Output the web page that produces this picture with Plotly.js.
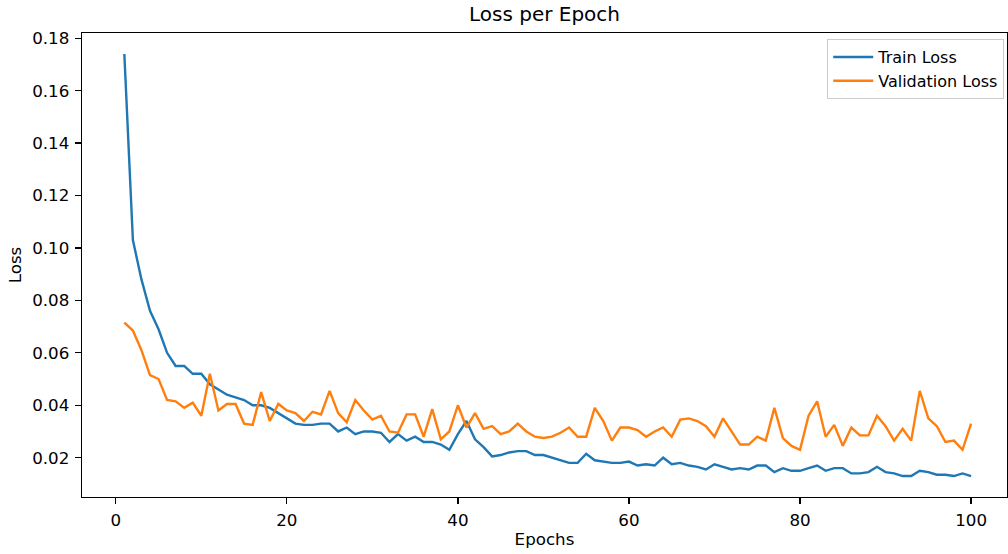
<!DOCTYPE html>
<html>
<head>
<meta charset="utf-8">
<script src="https://cdn.plot.ly/plotly-3.0.1.min.js"></script>
<style>html,body{margin:0;padding:0;background:#fff;}#chart{width:1008px;height:554px;}</style>
</head>
<body>
<div id="chart"></div>
<script>
const epochs = Array.from({length: 100}, (_, i) => i + 1);

const trainLoss = [
  0.174, 0.103, 0.088, 0.076, 0.069, 0.060, 0.055, 0.055, 0.052, 0.052,
  0.048, 0.046, 0.044, 0.043, 0.042, 0.040, 0.040, 0.039, 0.037, 0.035,
  0.033, 0.0325, 0.0325, 0.033, 0.033, 0.030, 0.0315, 0.029, 0.030, 0.030,
  0.0295, 0.026, 0.029, 0.0265, 0.028, 0.026, 0.026, 0.025, 0.023, 0.029,
  0.034, 0.027, 0.024, 0.0205, 0.021, 0.022, 0.0225, 0.0225, 0.021, 0.021,
  0.020, 0.019, 0.018, 0.018, 0.0215, 0.019, 0.0185, 0.018, 0.018, 0.0185,
  0.017, 0.0175, 0.017, 0.020, 0.0175, 0.018, 0.017, 0.0165, 0.0155, 0.0175,
  0.0165, 0.0155, 0.016, 0.0155, 0.017, 0.017, 0.0145, 0.016, 0.015, 0.015,
  0.016, 0.017, 0.015, 0.016, 0.016, 0.014, 0.014, 0.0145, 0.0165, 0.0145,
  0.014, 0.013, 0.013, 0.015, 0.0145, 0.0135, 0.0135, 0.013, 0.014, 0.013
];

const valLoss = [
  0.0715, 0.0685, 0.061, 0.0515, 0.050, 0.042, 0.0415, 0.039, 0.041, 0.036,
  0.052, 0.038, 0.0405, 0.0405, 0.033, 0.0325, 0.045, 0.034, 0.0405, 0.038,
  0.037, 0.034, 0.0375, 0.0365, 0.0455, 0.037, 0.0335, 0.042, 0.038, 0.0345,
  0.036, 0.030, 0.0295, 0.0365, 0.0365, 0.028, 0.0385, 0.027, 0.030, 0.040,
  0.0315, 0.037, 0.031, 0.032, 0.029, 0.030, 0.033, 0.030, 0.028, 0.0275,
  0.028, 0.0295, 0.0315, 0.028, 0.028, 0.039, 0.034, 0.0265, 0.0315, 0.0315,
  0.0305, 0.028, 0.030, 0.0315, 0.028, 0.0345, 0.035, 0.034, 0.032, 0.028,
  0.035, 0.030, 0.025, 0.025, 0.028, 0.0265, 0.039, 0.0275, 0.0245, 0.023,
  0.036, 0.0415, 0.028, 0.0325, 0.0245, 0.0315, 0.0285, 0.0285, 0.036, 0.032,
  0.0265, 0.031, 0.0265, 0.0455, 0.035, 0.032, 0.026, 0.0265, 0.023, 0.033
];

const xTicks = [0, 20, 40, 60, 80, 100];
const yTicks = [0.02, 0.04, 0.06, 0.08, 0.10, 0.12, 0.14, 0.16, 0.18];

const font = 'DejaVu Sans, sans-serif';
const fs = 16.7;

const data = [
  {x: epochs, y: trainLoss, type: 'scatter', mode: 'lines', name: 'Train Loss',
   line: {color: '#1f77b4', width: 2.4}},
  {x: epochs, y: valLoss, type: 'scatter', mode: 'lines', name: 'Validation Loss',
   line: {color: '#ff7f0e', width: 2.4}}
];

const layout = {
  width: 1008, height: 554,
  margin: {l: 82, r: 1, t: 33, b: 57},
  paper_bgcolor: '#fff', plot_bgcolor: '#fff',
  font: {family: font, size: fs, color: '#000'},
  title: {text: 'Loss per Epoch', font: {family: font, size: 20, color: '#000'},
          x: 0.5, xref: 'paper', y: 1, yref: 'container', yanchor: 'top', pad: {t: 7}},
  xaxis: {
    range: [-3.95, 104.2], tickvals: xTicks, ticktext: xTicks.map(String),
    showgrid: false, zeroline: false, showline: true, linecolor: '#000', linewidth: 1.3,
    mirror: true, ticks: 'outside', ticklen: 6, tickcolor: '#000', tickwidth: 1.3,
    ticklabelstandoff: 2,
    title: {text: 'Epochs', font: {family: font, size: fs}, standoff: 4}
  },
  yaxis: {
    range: [0.005, 0.182], tickvals: yTicks, ticktext: yTicks.map(v => v.toFixed(2)),
    showgrid: false, zeroline: false, showline: true, linecolor: '#000', linewidth: 1.3,
    mirror: true, ticks: 'outside', ticklen: 6, tickcolor: '#000', tickwidth: 1.3,
    ticklabelstandoff: 2,
    title: {text: 'Loss', font: {family: font, size: fs}, standoff: 6}
  },
  legend: {
    x: 0.997, y: 0.987, xanchor: 'right', yanchor: 'top',
    bgcolor: 'rgba(255,255,255,0.8)', bordercolor: '#cccccc', borderwidth: 1,
    font: {family: font, size: 16}, tracegroupgap: 0, itemwidth: 40
  },
  showlegend: true
};

Plotly.newPlot('chart', data, layout, {displayModeBar: false, staticPlot: true});
</script>
</body>
</html>
